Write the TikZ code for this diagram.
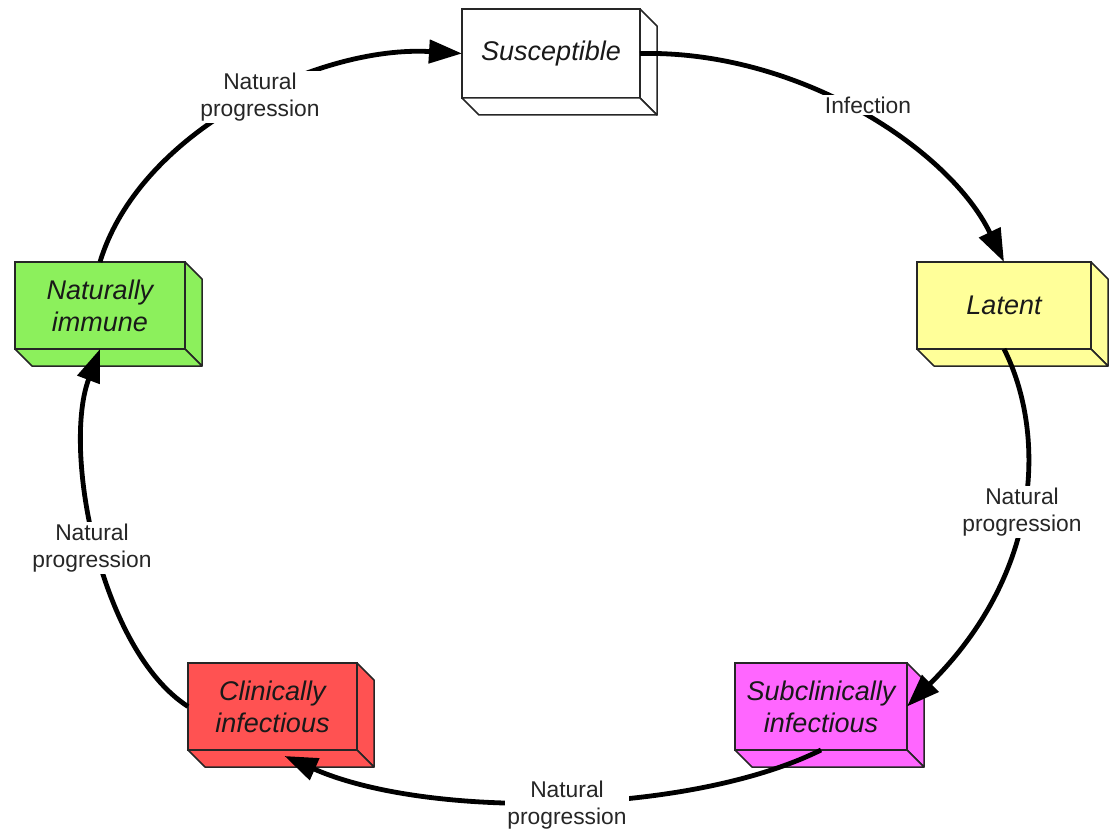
\documentclass[tikz,border=0pt]{standalone}
\usepackage{fontspec}
\setmainfont{Liberation Sans}
\usetikzlibrary{arrows.meta,calc}
\definecolor{cyellow}{RGB}{255,255,153}
\definecolor{cmagenta}{RGB}{255,102,255}
\definecolor{cred}{RGB}{255,82,82}
\definecolor{cgreen}{RGB}{140,240,92}
\tikzset{
  stage/.style={draw=black!85, line width=1.5pt, inner sep=0pt, outer sep=0pt, align=center,
    font=\fontsize{27}{32}\selectfont\itshape, text=black!90},
  boxline/.style={draw=black!85, line width=1.5pt, line join=round},
  flow/.style={line width=4.8pt, -{Triangle[length=33pt,width=23pt]}},
  lbl/.style={fill=white, inner sep=2pt, align=center,
    font=\fontsize{22.8}{27}\selectfont, text=black!85}
}
\newcommand{\extrude}[2]{%
  \draw[boxline, fill=#2] (#1.north east) -- ++(17,17) -- ($(#1.south east)+(17,17)$) -- (#1.south east) -- cycle;
  \draw[boxline, fill=#2] (#1.south west) -- ++(17,17) -- ($(#1.south east)+(17,17)$) -- (#1.south east) -- cycle;}
\begin{document}
\begin{tikzpicture}[x=1pt,y=-1pt]
\useasboundingbox (0,0) rectangle (1113,832);
% stages
\node[stage, fill=white, minimum width=178pt, minimum height=89pt] (s) at (551,53.5) {Susceptible};
\node[stage, fill=cyellow, minimum width=174pt, minimum height=87pt] (l) at (1004,305.5) {Latent};
\node[stage, fill=cmagenta, minimum width=172pt, minimum height=87pt] (sc) at (821,706.5) {Subclinically\\infectious};
\node[stage, fill=cred, minimum width=169pt, minimum height=87pt] (ci) at (272.5,706.5) {Clinically\\infectious};
\node[stage, fill=cgreen, minimum width=170pt, minimum height=87pt] (ni) at (100,305.5) {Naturally\\immune};
\extrude{s}{white}
\extrude{l}{cyellow}
\extrude{sc}{cmagenta}
\extrude{ci}{cred}
\extrude{ni}{cgreen}
\coordinate (ciend) at ($(ci.south)+(12,6)$);
% flows
\draw[flow] (ni.north) .. controls (140,130) and (320,45) .. (s.west);
\draw[flow] (s.east) .. controls (800,50) and (950,150) .. (l.north);
\draw[flow] (l.south) .. controls (1045,430) and (1045,570) .. (sc.east);
\draw[flow] (sc.south) .. controls (690,815) and (430,820) .. (ciend);
\draw[flow] (ci.west) .. controls (100,650) and (62,450) .. (ni.south);
% labels
\node[lbl] (t1) at (260,97) {Natural\\progression};
\node[lbl] (t2) at (868,105) {Infection};
\node[lbl] (t3) at (1022,512) {Natural\\progression};
\node[lbl] (t4) at (567,805) {Natural\\progression};
\node[lbl] (t5) at (92,548) {Natural\\progression};
\end{tikzpicture}
\end{document}
